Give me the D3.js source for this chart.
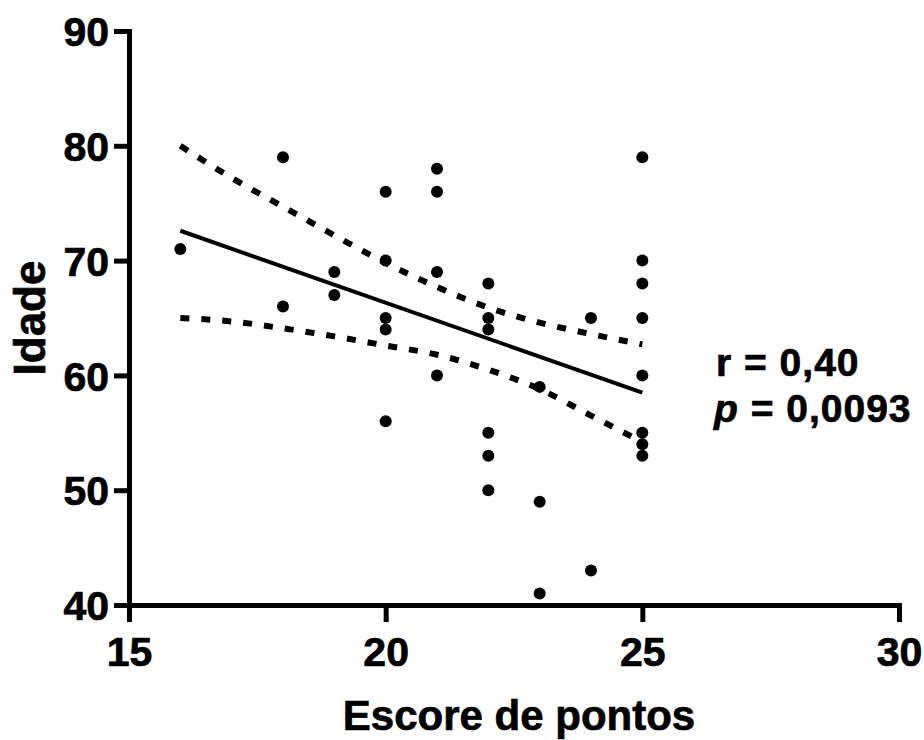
<!DOCTYPE html>
<html>
<head>
<meta charset="utf-8">
<script src="https://cdn.jsdelivr.net/npm/d3@7"></script>
<style>
  body { margin: 0; background: #fff; }
  svg { display: block; font-family: "Liberation Sans", Arial, sans-serif; }
  text { stroke: #000; stroke-width: 0.7px; }
</style>
</head>
<body>
<svg id="chart" width="924" height="740"></svg>
<script>
// scatter: escore (x) vs idade (y)
const scoreValues = [16, 18, 18, 19, 19, 20, 20, 20, 20, 20, 21, 21, 21, 21,
    22, 22, 22, 22, 22, 22, 23, 23, 23, 24, 24, 25, 25, 25, 25, 25, 25, 25, 25];
const ageValues = [71, 79, 66, 69, 67, 76, 70, 65, 64, 56, 78, 76, 69, 60,
    68, 65, 64, 55, 53, 50, 59, 49, 41, 65, 43, 79, 70, 68, 65, 60, 55, 54, 53];

// regression line and 95% band
const fitX = [16, 25];
const fitY = [72.6, 58.5];
const bandX = [16, 17, 18, 19, 20, 21, 22, 23, 24, 25];
const bandUpper = [80.0, 77.2, 74.7, 72.2, 69.8, 67.7, 65.9, 64.6, 63.6, 62.7];
const bandLower = [65.0, 64.7, 64.1, 63.4, 62.6, 61.8, 60.5, 58.8, 56.5, 54.2];

const xTicks = [15, 20, 25, 30];
const yTicks = [40, 50, 60, 70, 80, 90];

const svg = d3.select("#chart");

const x = d3.scaleLinear().domain([15, 30]).range([129, 899]);
const y = d3.scaleLinear().domain([40, 90]).range([605, 31]);

// axes
const xAxis = svg.append("g")
    .attr("transform", `translate(0,${y(40)})`)
    .call(d3.axisBottom(x).tickValues(xTicks).tickSize(17).tickSizeOuter(0).tickPadding(15));

const yAxis = svg.append("g")
    .attr("transform", `translate(${x(15)},0)`)
    .call(d3.axisLeft(y).tickValues(yTicks).tickSize(15).tickSizeOuter(0).tickPadding(5));

[xAxis, yAxis].forEach(g => {
    g.select(".domain").attr("stroke", "#000").attr("stroke-width", 5).attr("stroke-linecap", "square");
    g.selectAll(".tick line").attr("stroke", "#000").attr("stroke-width", 5);
    g.selectAll(".tick text")
        .attr("fill", "#000")
        .style("font-size", "41px")
        .style("font-weight", "bold")
        .style("font-family", "'Liberation Sans', Arial, sans-serif");
});
yAxis.selectAll(".tick text").attr("dy", "0.36em");

// confidence band (dashed)
const bandLine = d3.line()
    .x(d => x(d[0]))
    .y(d => y(d[1]))
    .curve(d3.curveMonotoneX);

[bandUpper, bandLower].forEach(vals => {
    svg.append("path")
        .datum(bandX.map((v, i) => [v, vals[i]]))
        .attr("d", bandLine)
        .attr("fill", "none")
        .attr("stroke", "#000")
        .attr("stroke-width", 6)
        .attr("stroke-dasharray", "9,12");
});

// regression line
svg.append("path")
    .datum(fitX.map((v, i) => [v, fitY[i]]))
    .attr("d", d3.line().x(d => x(d[0])).y(d => y(d[1])))
    .attr("fill", "none")
    .attr("stroke", "#000")
    .attr("stroke-width", 4);

// points
svg.append("g")
    .selectAll("circle")
    .data(scoreValues.map((v, i) => [v, ageValues[i]]))
    .join("circle")
    .attr("cx", d => x(d[0]))
    .attr("cy", d => y(d[1]))
    .attr("r", 6)
    .attr("fill", "#000");

// axis titles
svg.append("text")
    .attr("x", 519)
    .attr("y", 730)
    .attr("text-anchor", "middle")
    .style("font-size", "42px")
    .style("font-weight", "bold")
    .text("Escore de pontos");

svg.append("text")
    .attr("transform", "translate(45,318) rotate(-90)")
    .attr("text-anchor", "middle")
    .style("font-size", "44px")
    .style("font-weight", "bold")
    .text("Idade");

// stats annotation
svg.append("text")
    .attr("x", 716)
    .attr("y", 376)
    .style("font-size", "39px")
    .style("font-weight", "bold")
    .style("letter-spacing", "1px")
    .text("r = 0,40");

const pText = svg.append("text")
    .attr("x", 714)
    .attr("y", 422)
    .style("font-size", "39px")
    .style("font-weight", "bold")
    .style("letter-spacing", "1px");
pText.append("tspan")
    .style("font-style", "italic")
    .text("p");
pText.append("tspan")
    .text(" = 0,0093");
</script>
</body>
</html>
